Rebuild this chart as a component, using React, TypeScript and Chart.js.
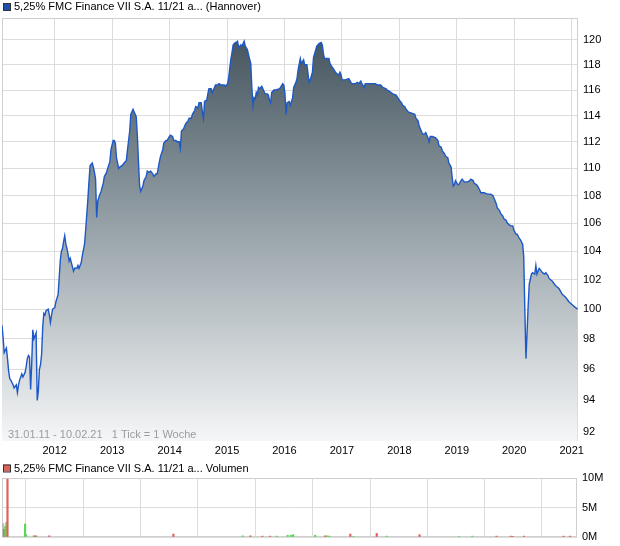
import React, { useEffect, useRef } from "react";
import { Chart, registerables } from "chart.js";
Chart.register(...registerables);

const FONT = '"Liberation Sans", Arial, Helvetica, sans-serif';
Chart.defaults.font.family = FONT;

const MAIN_LABEL = "5,25% FMC Finance VII S.A. 11/21 a... (Hannover)";
const VOL_LABEL = "5,25% FMC Finance VII S.A. 11/21 a... Volumen";
const RANGE_NOTE = "31.01.11 - 10.02.21   1 Tick = 1 Woche";

// weeks counted from 31.01.2011
const START_MS = Date.UTC(2011, 0, 31);
const END_MS = Date.UTC(2021, 1, 10);

const yearTicks = [2012, 2013, 2014, 2015, 2016, 2017, 2018, 2019, 2020, 2021];
const priceTicks = [92, 94, 96, 98, 100, 102, 104, 106, 108, 110, 112, 114, 116, 118, 120];
const volumeTicks = [0, 5, 10];

const priceWeeks = [
  0, 1, 2, 4, 5, 6, 7, 8, 10, 11, 13, 14, 15, 16, 18, 19, 21, 22, 23, 24, 25, 26, 27, 28, 29, 30, 31, 32, 33, 34,
  35, 36, 37, 38, 39, 40, 42, 43, 44, 45, 46, 48, 49, 51, 52, 53, 54, 55, 56, 57, 58, 59, 60, 61, 62, 64, 65, 66, 68, 69,
  70, 72, 73, 75, 76, 77, 78, 79, 80, 82, 83, 84, 85, 86, 87, 89, 90, 92, 93, 95, 96, 98, 99, 101, 102, 103, 104, 106, 107, 109,
  111, 113, 114, 116, 117, 119, 120, 122, 123, 124, 125, 126, 128, 129, 131, 132, 134, 135, 137, 138, 140, 141, 143, 144, 146, 147, 149, 150, 152, 153,
  155, 156, 158, 159, 161, 162, 163, 165, 166, 167, 169, 170, 172, 173, 175, 176, 178, 179, 181, 182, 183, 184, 186, 187, 188, 190, 191, 193, 194, 196,
  197, 199, 202, 203, 205, 206, 207, 208, 209, 210, 212, 213, 214, 215, 217, 218, 220, 221, 223, 224, 226, 227, 228, 229, 230, 231, 232, 233, 234, 236,
  237, 239, 241, 242, 243, 244, 245, 247, 249, 252, 253, 255, 256, 257, 258, 259, 261, 262, 264, 265, 267, 268, 269, 271, 272, 274, 275, 277, 279, 280,
  282, 283, 285, 286, 288, 290, 291, 292, 293, 295, 297, 298, 300, 301, 303, 304, 306, 307, 308, 309, 312, 315, 317, 318, 321, 323, 324, 326, 327, 329,
  330, 333, 336, 339, 341, 344, 346, 349, 350, 352, 355, 358, 361, 363, 364, 366, 367, 369, 372, 375, 376, 378, 379, 381, 382, 384, 385, 387, 388, 389,
  391, 394, 396, 397, 399, 400, 402, 403, 405, 406, 408, 409, 410, 411, 412, 414, 415, 417, 418, 420, 423, 425, 426, 428, 429, 431, 432, 434, 435, 438,
  441, 444, 446, 447, 449, 450, 452, 453, 455, 456, 458, 459, 462, 464, 465, 467, 468, 470, 471, 473, 474, 475, 476, 477, 478, 479, 481, 482, 484, 485,
  486, 488, 490, 491, 493, 494, 496, 497, 500, 503, 506, 509, 512, 515, 518, 521, 523,
];

const priceValues = [
  98.9, 98.1, 97.1, 97.4, 96.7, 95.9, 95.4, 95.3, 95.0, 94.8, 95.0, 94.5, 95.0, 95.3, 95.7, 95.5, 95.8, 96.2, 96.7, 96.9, 96.8, 94.7, 96.4, 98.6, 98.0, 98.2, 98.4, 94.0, 94.6, 96.0,
  96.3, 97.0, 98.8, 99.7, 99.6, 99.9, 100.0, 99.6, 99.1, 99.6, 100.0, 100.1, 100.5, 101.0, 102.2, 103.4, 104.0, 104.2, 104.7, 105.1, 104.5, 104.2, 103.8, 103.3, 103.5, 102.9, 102.6, 102.8, 102.8, 103.0,
  102.8, 103.2, 103.7, 104.5, 105.5, 106.6, 107.7, 109.0, 110.2, 110.4, 110.1, 109.7, 109.2, 106.4, 107.6, 108.1, 108.3, 108.9, 109.4, 109.7, 110.0, 110.5, 111.4, 112.1, 112.1, 111.9, 110.8, 110.0, 110.1, 110.2,
  110.4, 110.6, 111.4, 112.8, 114.1, 114.5, 114.3, 113.9, 112.4, 110.5, 108.7, 108.3, 108.7, 109.1, 109.4, 109.8, 109.7, 109.8, 109.6, 109.4, 109.6, 109.6, 110.5, 110.9, 111.4, 111.9, 112.1, 112.1, 112.4, 112.5,
  112.4, 112.1, 112.1, 112.0, 112.0, 111.5, 112.8, 113.0, 113.2, 113.4, 113.6, 113.8, 113.8, 114.1, 114.4, 114.7, 114.6, 115.0, 115.0, 114.3, 113.8, 115.1, 115.2, 115.7, 116.1, 116.1, 115.8, 116.2, 116.4, 116.4,
  116.5, 116.4, 116.4, 116.3, 116.5, 117.0, 117.8, 118.5, 119.0, 119.6, 119.8, 119.8, 119.9, 119.4, 119.6, 119.5, 119.9, 119.5, 119.2, 118.8, 118.1, 116.2, 114.8, 115.4, 115.3, 115.8, 115.6, 116.2, 116.1, 116.3,
  116.1, 115.7, 115.7, 115.6, 115.2, 115.0, 115.8, 116.0, 116.0, 116.1, 116.2, 116.5, 116.4, 115.8, 114.1, 115.0, 115.1, 114.8, 115.4, 116.2, 116.6, 116.9, 117.6, 118.5, 118.1, 118.4, 118.0, 118.0, 116.6, 116.8,
  117.4, 118.6, 119.2, 119.5, 119.7, 119.8, 119.6, 118.9, 118.5, 118.5, 118.5, 118.1, 117.8, 117.7, 117.4, 117.3, 117.2, 117.4, 117.2, 116.8, 116.8, 116.9, 116.6, 116.5, 116.5, 116.6, 116.5, 116.7, 116.5, 116.2,
  116.5, 116.5, 116.5, 116.5, 116.4, 116.4, 116.2, 116.1, 116.0, 115.9, 115.7, 115.6, 115.2, 115.0, 114.8, 114.7, 114.5, 114.3, 114.2, 114.1, 113.8, 113.6, 113.2, 112.8, 112.6, 112.6, 112.7, 112.3, 112.0, 112.4,
  112.4, 112.3, 112.1, 111.7, 111.6, 111.3, 111.1, 110.9, 110.8, 110.4, 110.1, 109.3, 108.7, 108.8, 109.1, 108.8, 108.8, 109.1, 109.2, 109.0, 109.0, 109.1, 109.2, 109.1, 108.9, 108.8, 108.7, 108.4, 108.2, 108.2,
  108.1, 108.1, 108.0, 107.8, 107.4, 107.1, 106.9, 106.7, 106.5, 106.3, 106.2, 106.0, 105.8, 105.8, 105.5, 105.2, 105.2, 104.9, 104.8, 104.5, 103.6, 99.9, 96.7, 98.4, 100.2, 101.7, 102.4, 102.5, 102.4, 103.0,
  102.4, 102.8, 102.6, 102.5, 102.4, 102.5, 102.3, 102.1, 101.9, 101.6, 101.4, 101.0, 100.8, 100.5, 100.3, 100.1, 100.0,
];

// volume in millions; direction: u = up (green), d = down (red), n = unchanged (grey)
const volumeWeeks = [1, 2, 3, 4, 5, 21, 22, 29, 30, 31, 43, 156, 219, 226, 237, 244, 250, 260, 263, 265, 285, 294, 296, 298, 317, 320, 341, 350, 380, 416, 428, 450, 463, 465, 475, 511, 517];
const volumeValues = [2.3, 1.3, 1.8, 2.5, 9.8, 2.2, 0.4, 0.2, 0.15, 0.2, 0.2, 0.5, 0.2, 0.2, 0.15, 0.15, 0.15, 0.3, 0.3, 0.4, 0.3, 0.2, 0.2, 0.15, 0.5, 0.1, 0.6, 0.15, 0.4, 0.1, 0.15, 0.15, 0.15, 0.1, 0.15, 0.15, 0.15];
const volumeDirection = ["n", "d", "u", "u", "d", "u", "u", "d", "u", "d", "d", "d", "u", "d", "d", "d", "u", "u", "u", "u", "u", "d", "u", "u", "d", "u", "d", "u", "d", "u", "u", "d", "d", "d", "d", "d", "d"];

const WEEK_MS = 7 * 86400000;
const weekOf = (ms: number) => (ms - START_MS) / WEEK_MS;
const END_WEEK = weekOf(END_MS);
const yearWeek = (y: number) => weekOf(Date.UTC(y, 0, 1));

const GRID = "#dcdcdc";
const FRAME = "#cfcfcf";
const dirColor: Record<string, string> = { u: "#5fd35a", d: "#e0605c", n: "#bdbdbd" };

function framePlugin(id: string) {
  return {
    id,
    beforeDatasetsDraw(chart: any) {
      const { ctx, chartArea: a } = chart;
      ctx.save();
      ctx.strokeStyle = FRAME;
      ctx.lineWidth = 1;
      ctx.strokeRect(Math.round(a.left) + 0.5, Math.round(a.top) + 0.5, Math.round(a.right - a.left) - 1, Math.round(a.bottom - a.top) - 1);
      ctx.restore();
    },
  };
}

function legendPlugin(id: string, text: string, fill: string, y: number) {
  return {
    id,
    afterDraw(chart: any) {
      const ctx = chart.ctx;
      ctx.save();
      ctx.fillStyle = fill;
      ctx.fillRect(3, y - 3.5, 7, 7);
      ctx.strokeStyle = "#333";
      ctx.lineWidth = 1;
      ctx.strokeRect(3.5, y - 3, 7, 7);
      ctx.fillStyle = "#000";
      ctx.font = `11px ${FONT}`;
      ctx.textBaseline = "middle";
      ctx.textAlign = "left";
      ctx.fillText(text, 14, y + 0.5);
      ctx.restore();
    },
  };
}

const notePlugin = {
  id: "note",
  afterDatasetsDraw(chart: any) {
    const ctx = chart.ctx;
    const a = chart.chartArea;
    ctx.save();
    ctx.fillStyle = "#9c9c9c";
    ctx.font = `11px ${FONT}`;
    ctx.textBaseline = "middle";
    ctx.textAlign = "left";
    ctx.fillText(RANGE_NOTE, 8, a.bottom - 6.5);
    ctx.restore();
  },
};

const tickFont = { size: 11, family: FONT };

export default function App() {
  const mainRef = useRef<HTMLCanvasElement>(null);
  const volRef = useRef<HTMLCanvasElement>(null);

  useEffect(() => {
    const yearTickObjs = () => yearTicks.map((y) => ({ value: yearWeek(y) }));

    const main = new Chart(mainRef.current!, {
      type: "line",
      data: {
        datasets: [
          {
            label: MAIN_LABEL,
            data: priceWeeks.map((w, i) => ({ x: w, y: priceValues[i] })),
            borderColor: "#1d58c6",
            borderWidth: 1.4,
            pointRadius: 0,
            tension: 0,
            fill: "start",
            backgroundColor: (c: any) => {
              const ch = c.chart;
              const a = ch.chartArea;
              if (!a) return "#9aa5ac";
              const g = ch.ctx.createLinearGradient(0, a.top + 20, 0, a.bottom);
              g.addColorStop(0, "#46555f");
              g.addColorStop(0.5, "#9ca7ad");
              g.addColorStop(1, "#f5f6f7");
              return g;
            },
          },
        ],
      },
      options: {
        animation: false,
        responsive: false,
        maintainAspectRatio: false,
        layout: { padding: { top: 18, left: 2, right: 0, bottom: 0 } },
        plugins: { legend: { display: false }, tooltip: { enabled: false } },
        scales: {
          x: {
            type: "linear",
            min: 0,
            max: END_WEEK,
            afterBuildTicks: (s: any) => {
              s.ticks = yearTickObjs();
            },
            afterFit: (s: any) => {
              s.height = 19;
              s.paddingLeft = 0;
              s.paddingRight = 0;
            },
            ticks: {
              autoSkip: false,
              maxRotation: 0,
              color: "#000",
              font: tickFont,
              padding: 3,
              callback: (_v: any, i: number) => String(yearTicks[i]),
            },
            grid: { color: GRID, drawTicks: false },
            border: { display: false },
          },
          y: {
            type: "logarithmic",
            position: "right",
            min: 91.45,
            max: 121.8,
            afterBuildTicks: (s: any) => {
              s.ticks = priceTicks.map((v) => ({ value: v }));
            },
            afterFit: (s: any) => {
              s.width = 42;
              s.paddingTop = 0;
              s.paddingBottom = 0;
            },
            ticks: {
              autoSkip: false,
              color: "#000",
              font: tickFont,
              padding: 5,
              callback: (v: any) => String(v),
            },
            grid: { color: GRID, drawTicks: false },
            border: { display: false },
          },
        },
      } as any,
      plugins: [framePlugin("frameMain"), legendPlugin("legMain", MAIN_LABEL, "#1f4fae", 6.5), notePlugin],
    });

    const vol = new Chart(volRef.current!, {
      type: "bar",
      data: {
        datasets: [
          {
            label: VOL_LABEL,
            data: volumeWeeks.map((w, i) => ({ x: w, y: volumeValues[i] })),
            backgroundColor: volumeDirection.map((d) => dirColor[d]),
            barThickness: 1.5,
          },
        ],
      },
      options: {
        animation: false,
        responsive: false,
        maintainAspectRatio: false,
        layout: { padding: { top: 23, left: 2, right: 0, bottom: 0 } },
        plugins: { legend: { display: false }, tooltip: { enabled: false } },
        scales: {
          x: {
            type: "linear",
            offset: false,
            min: 0,
            max: END_WEEK,
            afterBuildTicks: (s: any) => {
              s.ticks = yearTickObjs();
            },
            afterFit: (s: any) => {
              s.height = 9;
              s.paddingLeft = 0;
              s.paddingRight = 0;
            },
            ticks: { display: false },
            grid: { color: GRID, drawTicks: false },
            border: { display: false },
          },
          y: {
            type: "linear",
            position: "right",
            min: 0,
            max: 10,
            afterBuildTicks: (s: any) => {
              s.ticks = volumeTicks.map((v) => ({ value: v }));
            },
            afterFit: (s: any) => {
              s.width = 43;
              s.paddingTop = 0;
              s.paddingBottom = 0;
            },
            ticks: {
              color: "#000",
              font: tickFont,
              padding: 5,
              callback: (v: any) => `${v}M`,
            },
            grid: { color: GRID, drawTicks: false },
            border: { display: false },
          },
        },
      } as any,
      plugins: [framePlugin("frameVol"), legendPlugin("legVol", VOL_LABEL, "#dc625d", 13)],
    });

    return () => {
      main.destroy();
      vol.destroy();
    };
  }, []);

  return (
    <div style={{ position: "absolute", left: 0, top: 0, width: 620, height: 546, background: "#fff" }}>
      <canvas ref={mainRef} width={620} height={460} style={{ position: "absolute", left: 0, top: 0, display: "block" }} />
      <canvas ref={volRef} width={620} height={91} style={{ position: "absolute", left: 0, top: 455, display: "block" }} />
    </div>
  );
}
